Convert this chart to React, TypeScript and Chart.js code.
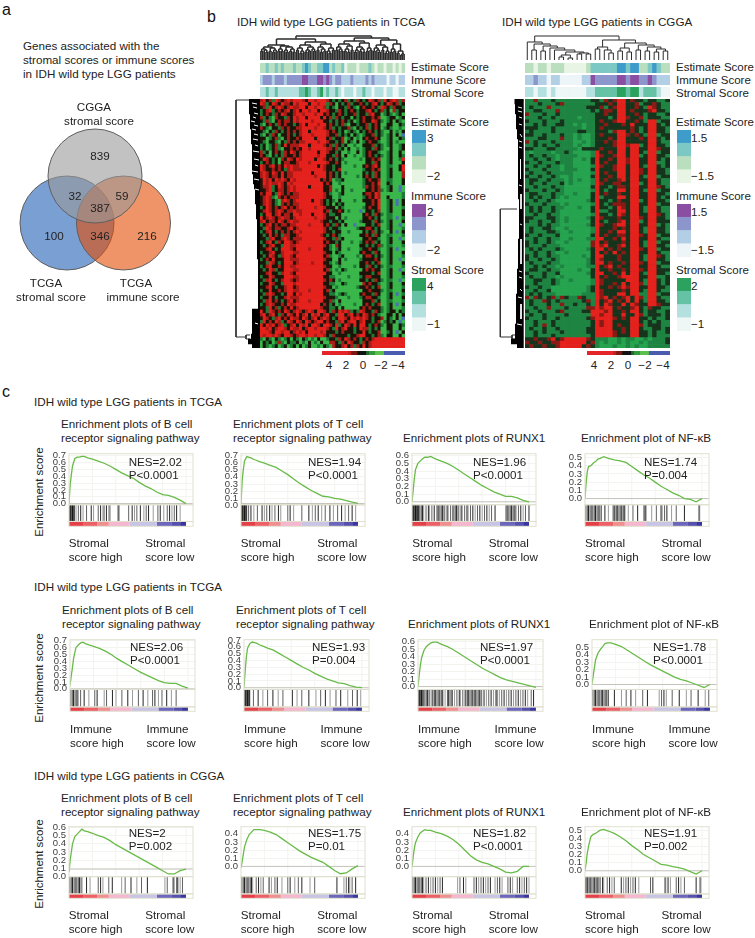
import React, { useEffect, useRef } from "react";
import { Chart, registerables } from "chart.js";

Chart.register(...registerables);

const FONT = '"Liberation Sans", Arial, sans-serif';

/* ---------- panel a: Venn (Chart.js paints the first dataset last) ---------- */
const vennSets = [
  { name: "CGGA stromal score", x: 95, y: 176, r: 47, color: "rgba(153,153,153,0.6)" },
  { name: "TCGA immune score", x: 123.5, y: 223, r: 47, color: "rgba(228,77,3,0.6)" },
  { name: "TCGA stromal score", x: 67, y: 223, r: 47, color: "#7a9fd3" },
];

/* ---------- panel b: heatmaps (read by eye, one letter per cell) ---------- */
const tcgaHeat = [
  "rRkrgRrkrRrR RRrkRRrRRRrk gkgkrgkgrkgk RrkrgRkrRrgr",
  "RrgkRrkRrrkR rRRRkRRrRRgr kGkgkrgkkrkg krRkgkRrkrgk",
  "krgRkrRrkrRr rRRkRRrRRrgk gGkkgrkgGkrk krkgRrkgrkkg",
  "gkrRgkrkrRkr RkRRrRRkRRrk kgrkgkrkgkkr RkgkrgkGrgkk",
  "gkrkgrkRrkkr RRrRRRrRRkrk gkrkgkkrgkkg rRkkGgkgGgkG",
  "rgkgGrkkgrkR rRRkRRRRkRkr grkgkkGkgkrk krkrGGgkkGgk",
  "kgrgGkrkrrkR rRRRRrRRRkkg kgkrkgkGgkrk kRrkgGgkGkgG",
  "gGkrkgrkrkkg krRkRRRrRRkr kgkrgGkkgkkr gkrkGGkkGGkg",
  "rkgGkkgrkrkk rrRRRRrRRrkr gkgkkrgGkgkr gkrkGgkgGGgG",
  "kgGkgrkgkrkr krRRkRRRRRrk rkgkGgkgGkgk rkgkgGGkGgGk",
  "gGkgrkGkkrkg krRRRrRRRRrk krgkgkGkgGgk krgkgGgkGkGb",
  "kkGgkrgGkrkk rkRRRRkRRRkr gkkrGgkGgGkr kkrkGGgkGGkg",
  "kgGkkgGkgrkr krrRRRRrRRrk kgkrGkgGkGgk rkkgGGgkGgGG",
  "gkGgkrgkRkrr rRRRkRRRRrkr grkgkGGgGGkk krgkgGgkGGgk",
  "gkGgkrgGkkrk rkRRrRRRRRrr krgkGkGGgGgk kgrkgGGkGGgk",
  "rgkGkrkgrkRr krRRRRRkRRrk kgkGGgGGkGgk rkkgGGgkGGkG",
  "rkgGkgkgrkkr krRRRRRrRRkk grkGkGGgGGgk rkgkgGgkGGkg",
  "kRrkgkGrkRrk RrRRRRkRRrkr kgkgGGGGGgGk krkrGGgkGGgR",
  "gkrkgkGkrrkk rRRRrRRRRRrk krkGgGGGGGGk kgrkGGgkGGGk",
  "RrkrRkrkRrRr rRRRRRRkRrkk gkkGGGGgGGkr krRkGGggGGkR",
  "RrkkrkrkgrRr rrRRRRRRRrkk gkrGGGGGGGgk krkrGGgkGGkR",
  "rRrkRrkRkrrR RRRRRkRRRRkr kgkGgGGGGGkg kgrkGGgkGGGr",
  "rRrkrrkRkrrR RRRRRRrRRRkr kgkGGGGGgGkr kgrkGGgkGGGr",
  "kRrRkRrRrkRr RRRRRRRRkrkr GggkGGGGGGgk rkkrGGggGGGk",
  "kRrRrrRrkRrR RRRRRRRRRkrk GGgGGGGGGGgk krkRGGkgGGGk",
  "krrRgkRrkrRr RRRRkRRRRkkr GGGkGGGGGGgr krkrGGgkGGbG",
  "kkrRgkrrkrRr RRRRRRRRRkkr GgGkGGgGGGGk krkrgGgkGGbG",
  "rkRRkgRrkrkr rRRRRRRRRrkg GGgkGGGGGGkr rkRrGGGGGGGg",
  "krRrgGrkrkrr rRRRRRRRRrkk GGgGGGGGGGgk rkRrGGkGGGGg",
  "krRrkgGrRrkr RRRRRkRRrkgk gGkGGGGgGGkk krkRGGgkGbGk",
  "krRrkgGrkrkr rRRRRRRRrkgk GkgkGGGGGGGk krkRGGgkGbGk",
  "gkRrkrkrRkrk rRRRRRrRRrkk kGkgGGGGGGgk rkkRGGgkGGGg",
  "krRrkrRrkrrR rrRRRRRRRkrg kkrkGgGGGbGk kgkrGGgkGGGk",
  "gkRRkrRkrrkR RrRRRkRRRrkg gkkGGGGGGGkr kgrkgGggGGGk",
  "RkrRrkrRrrkr RRRRRRrRRrkk kGkGgGGGGGkk rkgkGGggGbGg",
  "rRkrrkRrkrRr rRRRRRRRrkkg kkgkGGGGGgkk kgrkgGgkGGGk",
  "gkrRkrkrrkrr RRRRrRRRRkrk grkGkGGbGGGk kgkrGGgkGGbG",
  "kgRrkrrkkrRk rRRRRRRRRrkg kkgGGGGGgkkr rkgkGGgkGGGg",
  "gkrRkgkrkrkr RrRRRRRRRrkk gkkGGgGGGGkg krgkgGGkGbGk",
  "kgkRkrkgrrkk rRRRRRRRrkgk rkgGGGGGGkkr kgrkGGggGGGg",
  "kkgrRkkrRrkr rrRRRRRRRrkk grgkGGGGGGkk rkkgGGgkGGbG",
  "gkrRkgrkRRrk rRRRRRRRRkrk kgkGGGgGGgkr krgkGGgkGGGk",
  "kgkrRkkgRRrr RRRRRRRRRrkg GrkGGGGGGkkg kgkrgGggGGGg",
  "kkrRkgkRRRrk RRRRrRRRRkkg GgkGGgGGGgkk rkkgGGgkGbGG",
  "gkkrRkkrRRRr rRRRRRRRRrkk GkgGGGGGGkrk kgrkGGgkGGGk",
  "kgkRrkgrRRrk RRRRRRRRRkrg GGgkGGGGgGkr rkgkgGgkGGGg",
  "gkrkRkkkRRrr rRRRRRRRRrkk GGkGgGGGGgkk kkrkGGgkGGbG",
  "kkgRrkgkRRRk rRRRRrRRRkkg GgkGGGGGGkkr kgkrGGgkGGGk",
  "gkrRkkrkRRrr RRRRRRRRRrkk GGgGGGGgGkkg rkgkgGggGGGg",
  "kgkRrgkkRRRr rRRRRRRRRkrg GgGkgGGGGGkr krkkGGgkGGbG",
  "kkrRkkgrRRrk RRRRRRRRRRkk GGgGGGGGGkkk kgkrGGgkGGGk",
  "gkkRrkkkRRRr rRRRRRRRRkkg gGGGGgGGGgkr rkkkGGgkGGGg",
  "kgrRkgkrRRrk rRRRRRRRRrkr kGgGGGGGGkkg kgrkgGggGGbG",
  "gkkRrkkgRRRr RRRRRRRRRkkg gGGkgGGGGGrk rkkgGGgkGGGk",
  "kkrRkgkkrRRk rRRRRRRRRrkk GgGGGGGGgkkr kgkrGGgkGGGg",
  "gkkRkkrkrRRr rRRRrRRRRkrg kGGGGGGGGGkk rkkkgGggGGGk",
  "kgrRrkkgkRRk RrRRRRRRRkkg gGgkgGGGGkrk kgrkGGgkGbGg",
  "gkkRkgkkrRrr rRRRRRRRRrkk kgGGGgGGGgkr rkkgGGgkGGGk",
  "kgrRkrkgkrRk rRRRrRRRRkkr gGkGGGGGGGkk krgkGGggGGGg",
  "gkrRrkkrkRrr RRRRRRRRkrkg kGgGGGGgGGkr kgkrGGgkGbGk",
  "kkgRkrgkrkRk rRRRRRRRrkkg gkGkGGGGGkrk rkkkgGgkGGGg",
  "RkgRrkrkRrkr RrkrRrkRRrkg rkRrRrgkgRrk kgrkgGgkkGkg",
  "rRkrRkgrkRrk RkrRkRrRkrRk kgRRkrRkrkRr krkgGGkkGkGk",
  "kRrkgrRkrkRr rkRrkrRkrRrk gkRRrkRrRrRr kgkkrGkgGkGb",
  "gRkrkRrgkRrk RrkRrkrRRkrk kgrRkrRRkrRk kgkrGgkgkGbG",
  "RkRrRkrRgkrR kRrRkRRrkRRr kRgkRrkRkRRk gkrkgGkkGGkg",
  "RRrRkrRRrkRr rRkrRRrRRRrk gRkrRkkgkRrr gkgkGGkkGGkG",
  "RRRrkRRrRRkr RrRkRRRRrRkk kgkrkkkgkkRk gkkrGGgkGbGk",
  "RrRRrRrkRRrk rRRrRRrRRrkg rkkkkgkkrRRk kgkrgGkkGGkG",
  "gGkgGkgGgkGk gGkgGgGkGGgk kgrkRrkrkgkr krRRRRRRRRRR",
  "GkgkGgrgGkgg kGgGkGgGkGGr rkgrkRrkkgrk rRRRRRRRRRRR",
  "GkgGgkGgkGgk GkGgkGGgGkgG rkkrRkrgrkRk rRRRRRRRRRRR",
];

const cggaHeat = [
  "ggrgggkgggg ggggkkgrkrR Rkrkkgkkggk",
  "gggkgggkrgg gggggkkkrkR Rkkrgkkrkgg",
  "gkgggrggggg gggkkkrgkrR RkkrkgRrkgg",
  "ggkkgggrggg ggggkgkrrkR RkrkkkrRkkg",
  "rgggkggkggg gggggkkrkkR Rkkrkgkkggk",
  "gggkggkgggg gGgggkkkgkR Rrkkrgkkkgg",
  "kgggkgggkgg gggggkrkkrR RkkrkgRRgkk",
  "ggkgkggkkgg GgGggkkrkkk rkRkkkRRkgk",
  "kkkgggkgggg ggGggkrkkkk kkrkgkRRkkg",
  "gkggggkgggg gkkggkkkgrR RkrkgkRRkkg",
  "kkggkgggkgg GgGGgkrkkkR RrkrkgRRgkk",
  "gggkkgggrgg GgGGgkkkrkR RkkkrkRRkgk",
  "rgkgggkgggg GGgGgkkrkrR RkkkkkRRkgg",
  "ggkgkggkggg GgGGgkkkkrR RrRRgkRRkkg",
  "kkgggkkgggg gGkkkkrkkkR RkRRkkRRrkk",
  "gGggggGggkg GGGGgRkkrkR RkRRkgRRgkk",
  "gkggkggGggg gGGGgRrkkrR RkRRgkRRkkg",
  "ggkggkgGggg GGgGkRkkrkR RrRRkkRRkgk",
  "kggkgggkggg GGGGkRkrkkR RrRRkkRRggk",
  "ggkggkggGgg GGGGgRrkkrR RkRRkgRRkgk",
  "kgggkgggGgg gGGGkRkkkrR RkRRrkRRkkg",
  "gkgggkggggg GGGGgRkrkkR RkRRrkRRkkg",
  "kggkggkgGGg GGGGkRkkrkR RkRRkgRRgkk",
  "gkkggkgggGg GgGGgRkrkkr RkRRkkRRkgg",
  "gkggkgggkGg GGGGgRrkkrr kkRRgkRRkgg",
  "ggkgggkggGG GGGGkRkkgkr rkRRkkRRrkg",
  "kgggkggkgGG GGGGgRkgkkR RkRRkgRRgkk",
  "gkkgggkggGG gGGGkRkrkkr kkRRkkRRkkg",
  "gkgkggkgGgG GGGGkRgkkkR RkRRkkRRkgk",
  "ggkggkgGGGG GGGgkRkkgkr kkRRgkRRkkg",
  "kgggkgggGgG GGGGgRkgkrr rkRRkkRRgkk",
  "gkgkggkggGG GgGGkRkkgkR rkRRkgRRkgg",
  "gkgkggkgGGG GGGGkRggkkR RkRRkgRRkgg",
  "ggkggkggGGG GGGGgRkkgkR rkRRkkRRrkg",
  "kkgggkkgGgG GGGgkRrkkkr kkRRrkRRkkg",
  "kggkggkgGgG GGGGkRkgkkr RkRRgkRRkkk",
  "gggkgkggGGG GGGgkRrkkrR RkRRkkRRgkg",
  "gkggkkgGGgG GGGGgRkkkrk rkRRkgRRkkg",
  "gkgggkkgGGg GGGGgRkkrkR RkRRkgRRkkg",
  "kggkgggkGGG GGGGkRkrkkr rkRRrkRRgkk",
  "ggkggkggGGg GGGggRRkkrk RkRRkkRRkgg",
  "kgkggkgGGgG GGGGrRkrkkk rkRRkgRRgkk",
  "kgggkgggGGG GGGGrRrRkkr RkRRkgRRkkg",
  "gkgkgggkgGG GGGgkRRkrkr kkRRrkRRgkk",
  "ggkggkgGGgG GGGGkRkrkRk rkRRkkRRkgg",
  "kgkggkggGGG GGgGkRRkkkr kkRRkgRRrkg",
  "kggkggkgGGG GGGgkRrkkkr kkRRkgRRkkg",
  "gkgggkggGGG GGGgkRRkrkk rkRRrkRRgkk",
  "ggkgkggGgGG GGGggRkrRkr kkRRkkRRkgg",
  "gkkggkggGGG GgGGkRkkrkk rkRRrkRRkkk",
  "kgggkggkGGG GGGgkRRkkrk RkRRkgRRkkg",
  "gkggkggGgGG GGGGkRkrkkr RRRRkkRRggk",
  "ggkkggkgGGg GGGGgRrkkkk kRRRkgRRkgk",
  "ggkgggkgGGG GGGGgRrkkrk RkRRrgRRkgk",
  "kggkggGGGGG GGGgkRkkrkr RrRRkkRRkkg",
  "ggkggkGGGGG GGGgkRrkkkk rkRRkgRRkgg",
  "gkgkgggGGGG GGgggRrkkkR RkRRggRRgkk",
  "rgrkgkrgrkg grkggRrRkrk rRkRrgRRkgg",
  "gkggrkgkggg ggkrgRkrRkr kRkRkgRRkkg",
  "gkgggkggrgg kggkgRkRrkk RkRrkkRRrkk",
  "ggkggrgggkg gggrrRrRRkr kkrRkgrkkgg",
  "kggkgggkrgg ggkkRRRrRkk rkRRkgkkggk",
  "gkggkggggkg ggggRRrRRkk RkkRrgkkkgk",
  "kgggkggkggg gggkrRRRRrk rkRRkkgkggk",
  "ggkgggkgggg ggggkRrRRkk kkRRkgkgkgg",
  "ggkgrgkgggg ggggkRrRRkr kkRRrgkkkgg",
  "gkggkggkggg gggkkRRRRkk rkRRkggkkgk",
  "ggkgkgggkgg gggkkRRRRrk rkRRkkgkggk",
  "ggkgggkgggg ggggkRRRRrk kkRRkkgkggg",
  "kkrkkrRkrRR RRRrkgggGGg GggGGgGgggk",
  "rkkrkkrrRRR RRRkrgGgGGg GgGGgGggggk",
  "krkkrkkrRRR RRkrkgGGGgG GgGgGGggggg",
];

const tcgaEstimate = ["bbcbbcbcbbbcbbcdcbbccddbcbbcabbbabbbcbabbabbabab"];
const tcgaImmune = ["bcccbcccbcccccddcccddcdcbccbbbcbbbbcbcbbbbabbabb"];
const tcgaStromal = ["bbcbbcbbbbbbbccdcbbcdbcbbcbabbbabbcbbabbbabbaabb"];
const cggaEstimate = ["bbabbabbbaaaaabccccccddcddbbcdcbb"];
const cggaImmune = ["bbcbbabbaaaaabbdcccccddcddccdcbbb"];
const cggaStromal = ["bbabbabaaaaaaabbcccccddcddbcccbaa"];
const swatchRows = ["d", "c", "b", "a"];
const scaleRow = ["RRRRRRRRRSTTkkkghhGGGbbbbbbb"];

const heatColorsTcga = { R: "#e4211c", r: "#a81b16", k: "#1a1409", g: "#1c7a34", G: "#3ab74a", b: "#4a6fb5" };
const heatColorsCgga = { R: "#e4211c", r: "#8a1a15", k: "#16341c", g: "#1e8442", G: "#25a34e", b: "#4a6fb5" };
const estimateColors = { a: "#e9f5e4", b: "#b9dfbf", c: "#7cc8c4", d: "#3e9ccb" };
const immuneColors = { a: "#eef5f8", b: "#b3cfe6", c: "#8d96cc", d: "#8a4fa3" };
const stromalColors = { a: "#eef6f6", b: "#b4e0e0", c: "#66c2a5", d: "#2ca25f" };
const scaleColors = { R: "#e4252a", S: "#c0201f", T: "#7d1712", k: "#111111", g: "#1d6b2e", h: "#2f9a3a", G: "#5cc04a", b: "#4a5cb0" };

/* dendrograms: [mergeHeight, left, right]; 0 is a leaf */
const tcgaTree = [24,
  [21,
    [15, [13, [11, [9, 0, 0], [10, 0, [8, 0, 0]]], [12, [9, 0, 0], [10, [8, 0, 0], 0]]], [14, [11, [9, 0, 0], [9, 0, 0]], [13, [10, 0, [8, 0, 0]], [11, [9, 0, 0], [8, 0, 0]]]]],
    [18, [15, [12, [10, 0, 0], [9, [7, 0, 0], 0]], [13, [10, [8, 0, 0], [9, 0, 0]], [11, 0, [9, 0, 0]]]], [16, [13, [10, 0, 0], [11, [8, 0, 0], [9, 0, 0]]], [12, [9, 0, [7, 0, 0]], [10, 0, 0]]]],
  ],
  [22,
    [19, [16, [13, [10, 0, 0], [11, 0, [9, 0, 0]]], [14, [11, [9, 0, 0], [8, 0, 0]], [10, 0, 0]]], [17, [13, [10, [8, 0, 0], 0], [11, [9, 0, 0], [8, 0, 0]]], [12, [9, 0, 0], [10, 0, 0]]]],
    [20, [15, [12, [9, 0, 0], [10, 0, [8, 0, 0]]], [13, [10, 0, 0], [9, [7, 0, 0], 0]]], [16, [11, [8, 0, 0], [9, 0, 0]], [9, [7, 0, 0], [6, [5, 0, 0], 0]]]],
  ],
];
const cggaTree = [24,
  [18, 0, [16, [10, 0, 0], [14, [9, 0, 0], [12, 0, [10, 0, [8, [5, [3, 0, 0], [2, 0, 0]], [7, [6, 0, 0], [6, 0, 0]]]]]]]],
  [20, [13, [11, 0, 0], [10, 0, [7, 0, 0]]], [17, [12, [9, 0, 0], [8, 0, 0]], [15, [10, 0, 0], [13, [9, 0, 0], [11, [8, 0, 0], [9, 0, 0]]]]]],
];

/* left dendrograms: where the black comb starts on each row */
const tcgaComb = [15, 15, 15, 16, 16, 16, 17, 17, 17, 18, 18, 18, 18, 18, 18, 19, 19, 20, 21, 21, 21, 22, 22, 22, 23, 23, 23, 23, 23, 23, 23, 23, 24, 24, 24, 24, 24, 24, 24, 24, 24, 24, 18, 18, 18, 18, 18, 17, 14, 18];
const cggaComb = [17.5, 18, 18, 19, 19, 19, 20, 20, 21, 21, 21, 21, 21, 21, 21, 21, 21, 21, 21, 21, 22, 22, 22, 22, 22, 22, 22, 22, 21, 21, 21, 21, 21, 21, 20, 20, 20, 20, 20, 19, 19, 19, 19, 19, 19, 18, 18, 18, 14, 20];
const tcgaCombGaps = [[18, 4, 23, 5], [19, 8, 23, 9], [20, 14, 24, 15], [19, 18, 22, 19], [17, 22, 21, 23], [20, 26, 24, 27], [18, 30, 22, 31], [20, 35, 24, 36], [19, 40, 24, 41], [21, 46, 24, 47], [19, 52, 25, 53], [20, 60, 25, 61], [21, 66, 24, 67], [18, 72, 24, 73], [20, 80, 25, 81], [21, 90, 25, 91], [21, 224, 24, 225]];
const cggaCombGaps = [[21, 8, 25, 9], [21, 12, 25, 13], [22, 18, 25, 19], [22, 25, 25, 26], [23, 35, 25, 38], [22, 42, 25, 43], [22, 48, 25, 49], [23.5, 60, 23.5, 80], [22, 86, 25, 87], [24, 95, 24, 110], [23, 125, 25, 126], [24, 140, 24, 165], [22, 172, 25, 173], [22, 178, 25, 179], [23, 190, 25, 192], [21, 198, 25, 199], [24, 205, 24, 220], [20, 225, 25, 226]];
const tcgaBrackets = [[2, 1, 2, 238], [2, 1, 15, 1], [2, 238, 12, 238], [12, 236, 16, 236], [12, 240, 16, 240], [12, 236, 12, 240]];
const cggaBrackets = [[3.3, 110, 3.3, 238], [3.3, 110, 20, 110], [3.3, 238, 15, 238], [15, 236, 19, 236], [15, 240, 19, 240], [15, 236, 15, 240]];

/* ---------- panel c: enrichment plots ---------- */
const rankAxis = [0, 1, 2, 3, 5, 7, 9, 11, 13, 16, 20, 25, 30, 35, 40, 45, 50, 55, 60, 65, 70, 75, 80, 85, 90, 95, 100];

const esTcgaStromalB = [0, .28, .42, .55, .66, .68, .68, .69, .69, .67, .65, .62, .59, .55, .5, .45, .41, .37, .31, .26, .22, .17, .13, .12, .09, .05, 0];
const esTcgaStromalT = [.02, .35, .5, .62, .68, .67, .66, .64, .63, .61, .59, .56, .53, .48, .43, .37, .31, .26, .21, .17, .13, .12, .1, .09, .07, .05, .03];
const esTcgaStromalRunx = [0, .15, .3, .42, .5, .53, .56, .58, .58, .59, .56, .53, .5, .46, .41, .36, .31, .26, .21, .17, .13, .1, .07, .07, .05, .02, 0];
const esTcgaStromalNf = [0, .2, .33, .39, .4, .43, .45, .48, .49, .51, .49, .47, .46, .44, .39, .34, .29, .25, .2, .15, .11, .07, .04, 0, -.01, -.04, 0];
const esTcgaImmuneB = [.05, .18, .3, .44, .6, .64, .67, .68, .66, .64, .62, .59, .55, .5, .44, .39, .34, .29, .24, .2, .16, .12, .09, .08, .08, .04, .01];
const esTcgaImmuneT = [0, .25, .45, .58, .65, .67, .66, .65, .63, .61, .58, .55, .5, .45, .4, .35, .3, .26, .21, .17, .13, .1, .07, .06, .03, .01, 0];
const esTcgaImmuneRunx = [0, .15, .28, .38, .48, .53, .56, .58, .59, .59, .56, .53, .49, .44, .39, .34, .29, .24, .2, .16, .12, .09, .07, .05, .03, .01, -.01];
const esTcgaImmuneNf = [0, .12, .22, .33, .42, .47, .51, .55, .56, .56, .54, .51, .46, .41, .36, .31, .26, .22, .18, .14, .1, .07, .05, .02, -.01, -.04, 0];
const esCggaB = [.05, .2, .3, .4, .49, .52, .55, .58, .56, .55, .53, .5, .48, .44, .39, .35, .31, .27, .23, .19, .15, .11, .07, .03, .03, .07, .09];
const esCggaT = [-.02, .06, .15, .24, .33, .39, .42, .45, .45, .45, .44, .42, .39, .34, .29, .24, .19, .15, .11, .08, .05, 0, -.05, -.09, -.08, -.03, .01];
const esCggaRunx = [-.01, .12, .22, .29, .36, .41, .43, .45, .44, .44, .42, .4, .37, .33, .27, .2, .13, .08, .05, .03, 0, -.03, -.07, -.08, -.06, 0, 0];
const esCggaNf = [0, .1, .22, .3, .42, .45, .46, .48, .5, .51, .49, .46, .42, .37, .31, .26, .2, .16, .12, .08, .07, .05, .04, .02, -.01, -.04, 0];

const hitsTcgaStromalB = [0, .5, 1, 1.5, 2, 2.5, 3, 3.5, 4, 4.5, 6, 8, 10, 12, 15, 19, 21, 25, 27, 29, 30, 32, 34, 35, 42, 43, 51, 54, 56, 58, 61, 64, 66, 68, 72, 76, 78, 81, 84, 86, 88, 90, 92, 95];
const hitsTcgaStromalT = [0, .5, 1, 1.5, 2, 2.5, 3, 3.5, 4, 4.5, 5, 6.5, 8.5, 11, 14, 18, 20, 22, 24.5, 26.5, 29, 32, 34, 40, 42, 45, 52, 58, 61, 63.5, 66, 69, 72, 76, 79, 82.6, 86, 89, 92, 95, 98];
const hitsTcgaStromalRunx = [0, .5, 1, 1.5, 2, 2.5, 3, 3.5, 4, 4.5, 5, 5.5, 6, 7, 8, 9, 10, 12, 14, 15, 17, 19, 21, 22, 23, 24, 25, 26, 27, 28, 30, 31, 33, 35, 36, 37, 38, 39, 40, 42, 43, 45, 47, 48, 50, 52, 54, 56, 58, 60, 62, 64, 66, 68, 71, 80, 81, 82, 83, 84, 85, 86, 87, 88, 89, 91, 93, 95, 97, 100];
const hitsTcgaStromalNf = [0, 1, 2, 3, 4, 5, 6, 7, 8, 9, 10, 11, 12, 13, 14, 17, 20, 24, 25, 26, 27, 28, 29, 30, 31, 32, 33, 34, 37, 41, 45, 50, 51, 52, 57, 61, 65, 66, 68, 70, 74, 78, 85, 97, 98];
const hitsTcgaImmuneB = [0, 1, 2, 3, 4, 5, 6, 7, 9, 12, 16, 21, 23, 29, 31, 36, 39, 44, 49, 53, 58, 62, 66, 70, 72, 75, 78, 82, 86, 90];
const hitsTcgaImmuneT = [0, .5, 1, 1.5, 2, 2.5, 3, 3.5, 4, 4.5, 5, 8, 12, 16, 20, 24.5, 29, 33, 41, 45, 49, 55, 61, 65, 69, 73, 78, 82, 88, 92, 96, 99];
const hitsTcgaImmuneRunx = [0, .5, 1, 1.5, 2, 2.5, 3, 3.5, 4, 5, 6, 7, 8, 9, 10, 12, 13, 14, 15, 16, 17, 18, 19, 20, 21, 23, 25, 26, 27, 28, 29, 31, 33, 35, 36, 38, 40, 41, 42, 43, 44, 45, 46, 47, 48, 49, 50, 51, 52, 53, 54, 56, 58, 60, 62, 64, 66, 67, 69, 71, 73, 75, 77, 79, 81, 83, 85, 87, 89, 91, 93, 96, 98];
const hitsTcgaImmuneNf = [0, 1, 2, 3, 4, 5, 6, 7, 8, 9, 10, 11, 12, 13, 14, 19, 25, 29, 33, 37, 43, 47, 57, 59, 61, 63, 68, 74, 80, 84, 90, 96, 99];
const hitsCggaB = [0, 1, 2, 3, 4, 5, 6, 7, 8, 9, 10, 11, 15, 18, 25, 27, 29, 34, 37, 45, 48, 53, 58, 62, 67, 82, 84, 89, 90, 92, 93, 95, 97];
const hitsCggaT = [0, 1, 2, 3, 4, 5, 6, 7, 8, 9, 10, 13, 15, 17, 19, 24, 26, 29, 31, 35, 40, 42, 46, 49, 52, 59, 63, 82, 88, 90, 92, 93, 95, 98];
const hitsCggaRunx = [0, 1, 2, 3, 4, 5, 6, 7, 8, 9, 10, 12, 14, 16, 18, 20, 22, 24, 26, 39, 41, 44, 46, 53, 55, 57, 59, 61, 63, 65, 67, 71, 73, 75, 77, 82, 84, 86, 90, 92, 94, 96, 98, 100];
const hitsCggaNf = [0, .5, 1, 2, 3, 4, 5, 6, 7, 8, 9, 10, 11, 12, 13, 15, 16, 19, 21, 23, 25, 31, 33, 35, 37, 39, 41, 43, 46, 56, 58, 68, 69, 71, 73, 78, 80, 82, 85, 95, 98, 99];
const hitShades = ["rgba(0,0,0,0.9)", "rgba(20,20,20,0.45)", "rgba(10,10,10,0.68)"];

const rampStops = [
  [0, 12, "#e5404a"], [12, 24, "#ee6068"], [24, 34, "#f08f90"], [34, 52, "#f6b6d0"],
  [52, 75, "#c8c4e6"], [75, 88, "#6c66bd"], [88, 95, "#5650ae"], [95, 100, "#3a36a0"],
];

const titleB = ["Enrichment plots of B cell", "receptor signaling pathway"];
const titleT = ["Enrichment plots of T cell", "receptor signaling pathway"];
const titleR = ["Enrichment plots of RUNX1"];
const titleN = ["Enrichment plot of NF-κB"];

/* frame geometry and stats of the twelve enrichment plots */
const rows = [
  { top: 451, div: 509, rampTop: 528, bottom: 533.5, heading: "IDH wild type LGG patients in TCGA", headY: 402, tail: "Stromal", t1: 423.5, t2: 437.5, label: 492, statY: [462, 475], textY: [543, 557], xs: [68.7, 240.7, 412.3, 585], w: 124 },
  { top: 637, div: 694, rampTop: 714, bottom: 719, heading: "IDH wild type LGG patients in TCGA", headY: 587, tail: "Immune", t1: 610, t2: 624, label: 678, statY: [647, 660], textY: [729, 743], xs: [70, 244, 418, 592], w: 125 },
  { top: 824, div: 881, rampTop: 900.7, bottom: 905.7, heading: "IDH wild type LGG patients in CGGA", headY: 776, tail: "Stromal", t1: 798, t2: 812, label: 864, statY: [833, 846], textY: [915, 929], xs: [68.7, 240.7, 412.3, 585], w: 124 },
];
const plots = [
  [
    { es: esTcgaStromalB, hits: hitsTcgaStromalB, title: titleB, nes: "NES=2.02", p: "P<0.0001", y0: 507.7, tick: 453.3, tv: .7, base: 0, tx: 61, sx: 128.7 },
    { es: esTcgaStromalT, hits: hitsTcgaStromalT, title: titleT, nes: "NES=1.94", p: "P<0.0001", y0: 510, tick: 452.7, tv: .7, base: 0.03, tx: 233, sx: 308 },
    { es: esTcgaStromalRunx, hits: hitsTcgaStromalRunx, title: titleR, nes: "NES=1.96", p: "P<0.0001", y0: 505.7, tick: 453.3, tv: .6, base: 0, tx: 403, sx: 473 },
    { es: esTcgaStromalNf, hits: hitsTcgaStromalNf, title: titleN, nes: "NES=1.74", p: "P=0.004", y0: 502, tick: 455.3, tv: .5, base: 0, tx: 581, sx: 644 },
  ],
  [
    { es: esTcgaImmuneB, hits: hitsTcgaImmuneB, title: titleB, nes: "NES=2.06", p: "P<0.0001", y0: 693.3, tick: 638.3, tv: .7, base: 0, tx: 62, sx: 130 },
    { es: esTcgaImmuneT, hits: hitsTcgaImmuneT, title: titleT, nes: "NES=1.93", p: "P=0.004", y0: 692, tick: 637.3, tv: .7, base: 0, tx: 236, sx: 312 },
    { es: esTcgaImmuneRunx, hits: hitsTcgaImmuneRunx, title: titleR, nes: "NES=1.97", p: "P<0.0001", y0: 690.7, tick: 639, tv: .6, base: 0, tx: 408, sx: 480 },
    { es: esTcgaImmuneNf, hits: hitsTcgaImmuneNf, title: titleN, nes: "NES=1.78", p: "P<0.0001", y0: 688.3, tick: 645.7, tv: .5, base: 0, tx: 589, sx: 653 },
  ],
  [
    { es: esCggaB, hits: hitsCggaB, title: titleB, nes: "NES=2", p: "P=0.002", y0: 880.7, tick: 825, tv: .6, base: .09, tx: 61, sx: 128.7 },
    { es: esCggaT, hits: hitsCggaT, title: titleT, nes: "NES=1.75", p: "P=0.01", y0: 869.3, tick: 832, tv: .4, base: 0, tx: 233, sx: 308 },
    { es: esCggaRunx, hits: hitsCggaRunx, title: titleR, nes: "NES=1.82", p: "P<0.0001", y0: 869.3, tick: 832, tv: .4, base: 0, tx: 403, sx: 473 },
    { es: esCggaNf, hits: hitsCggaNf, title: titleN, nes: "NES=1.91", p: "P=0.002", y0: 874.3, tick: 828, tv: .5, base: 0, tx: 581, sx: 644 },
  ],
];

/* ---------- helpers ---------- */
const baseOptions = {
  animation: false,
  responsive: false,
  maintainAspectRatio: false,
  events: [],
  layout: { padding: 0, autoPadding: false },
  plugins: { legend: { display: false }, tooltip: { enabled: false } },
};

function cellsConfig(rowsIn, palette) {
  const clean = rowsIn.map((r) => r.replace(/ /g, ""));
  const cols = Math.max(...clean.map((r) => r.length));
  const labels = Array.from({ length: cols }, (_, i) => String(i));
  const datasets = [...clean].reverse().map((r) => ({
    data: labels.map(() => 1),
    backgroundColor: labels.map((_, c) => palette[r[c]] || palette.k || palette.a),
    borderWidth: 0,
    categoryPercentage: 1,
    barPercentage: 1,
  }));
  return {
    type: "bar",
    data: { labels, datasets },
    options: {
      ...baseOptions,
      scales: {
        x: { display: false, stacked: true },
        y: { display: false, stacked: true, min: 0, max: clean.length },
      },
    },
  };
}

function segPoints(list) {
  const pts = [];
  for (const [x0, y0, x1, y1] of list) {
    pts.push({ x: x0, y: y0 }, { x: x1, y: y1 }, { x: x1, y: null });
  }
  return pts;
}

function lineSet(list, color, width, axis = "y", extra = {}) {
  return {
    type: "scatter",
    data: segPoints(list),
    showLine: true,
    borderColor: color,
    borderWidth: width,
    pointRadius: 0,
    spanGaps: false,
    borderCapStyle: "butt",
    yAxisID: axis,
    ...extra,
  };
}

function treeSegments(tree) {
  const segs = [];
  let leaf = 0;
  const walk = (n) => {
    if (n === 0) return { x: leaf++ + 0.5, h: 0 };
    const [h, a, b] = n;
    const l = walk(a);
    const r = walk(b);
    segs.push([l.x, l.h, l.x, h], [r.x, r.h, r.x, h], [l.x, h, r.x, h]);
    return { x: (l.x + r.x) / 2, h };
  };
  walk(tree);
  return { segs, leaves: leaf };
}

function treeConfig(tree, width) {
  const { segs, leaves } = treeSegments(tree);
  return {
    type: "scatter",
    data: { datasets: [lineSet(segs, "#2b2b2b", width)] },
    options: {
      ...baseOptions,
      scales: {
        x: { display: false, type: "linear", min: 0, max: leaves },
        y: { display: false, type: "linear", min: 0, max: 25 },
      },
    },
  };
}

function combConfig(comb, right, gaps, brackets, w) {
  const band = comb.map((e, i) => [e, (i + 0.5) * 5, right, (i + 0.5) * 5]);
  return {
    type: "scatter",
    data: {
      datasets: [
        lineSet(gaps, "#ffffff", 1),
        lineSet(band, "#000000", 5.6),
        lineSet(brackets, "#333333", 1),
      ],
    },
    options: {
      ...baseOptions,
      scales: {
        x: { display: false, type: "linear", min: 0, max: w },
        y: { display: false, type: "linear", reverse: true, min: 0, max: 249 },
      },
    },
  };
}

const framePlugin = {
  id: "frames",
  afterDatasetsDraw(chart) {
    const { ctx, chartArea, scales } = chart;
    ctx.save();
    ctx.strokeStyle = "#e0e0d0";
    ctx.lineWidth = 1;
    for (const id of ["y", "yh", "yr"]) {
      const s = scales[id];
      ctx.strokeRect(chartArea.left, s.top, chartArea.right - chartArea.left, s.bottom - s.top);
    }
    ctx.restore();
  },
};

const AXIS_W = 30;
const PAD_TOP = 6;

function gseaConfig(row, p) {
  const unit = (p.y0 - p.tick) / p.tv;
  const yMax = (p.y0 - row.top) / unit;
  const yMin = (p.y0 - row.div) / unit;
  const tickVals = [];
  for (let i = 0; i <= Math.round(p.tv * 10); i++) tickVals.push(i / 10);
  const gridX = [20, 40, 60, 80, 100];
  const datasets = [
    {
      type: "scatter",
      data: rankAxis.map((x, i) => ({ x, y: p.es[i] })),
      showLine: true,
      borderColor: "#68bb48",
      borderWidth: 1.3,
      pointRadius: 0,
      yAxisID: "y",
    },
    lineSet([[0, p.base, 106, p.base]], "#c4c4bc", 1),
    lineSet(gridX.map((x) => [x, yMin, x, yMax]), "#f3f3f0", 1),
    ...hitShades.map((shade, s) =>
      lineSet(p.hits.filter((_, i) => i % hitShades.length === s).map((h) => [h, 0, h, 1]), shade, 0.95, "yh")
    ),
    ...rampStops.map(([a, b, c]) => lineSet([[a, 0.5, b, 0.5]], c, row.bottom - row.rampTop, "yr")),
  ];
  return {
    type: "scatter",
    data: { datasets },
    plugins: [framePlugin],
    options: {
      ...baseOptions,
      layout: { padding: { top: PAD_TOP, right: 1, bottom: 1, left: 0 }, autoPadding: false },
      scales: {
        x: { display: false, type: "linear", min: 0, max: 106 },
        y: {
          type: "linear",
          position: "left",
          stack: "gsea",
          stackWeight: row.div - row.top,
          weight: 3,
          min: yMin,
          max: yMax,
          afterBuildTicks: (s) => {
            s.ticks = tickVals.map((value) => ({ value }));
          },
          afterFit: (s) => {
            s.width = AXIS_W;
          },
          border: { display: false },
          grid: { color: "#f3f3f0", drawTicks: false },
          ticks: {
            autoSkip: false,
            padding: 3,
            color: "#3c3c3c",
            font: { family: FONT, size: 9.5 },
            callback: (v) => Number(v).toFixed(1),
          },
        },
        yh: { display: false, type: "linear", position: "left", stack: "gsea", stackWeight: row.rampTop - row.div, weight: 2, min: 0, max: 1 },
        yr: { display: false, type: "linear", position: "left", stack: "gsea", stackWeight: row.bottom - row.rampTop, weight: 1, min: 0, max: 1 },
      },
    },
  };
}

function vennConfig() {
  return {
    type: "bubble",
    data: {
      datasets: vennSets.map((s) => ({
        label: s.name,
        data: [{ x: s.x, y: s.y, r: s.r }],
        backgroundColor: s.color,
        borderColor: "#5f5f5f",
        borderWidth: 1,
        clip: false,
      })),
    },
    options: {
      ...baseOptions,
      scales: {
        x: { display: false, type: "linear", min: 0, max: 200 },
        y: { display: false, type: "linear", reverse: true, min: 110, max: 290 },
      },
    },
  };
}

function Plot({ x, y, w, h, config }) {
  const ref = useRef(null);
  useEffect(() => {
    const chart = new Chart(ref.current, config);
    return () => chart.destroy();
  }, []);
  return <canvas ref={ref} width={w} height={h} style={{ position: "absolute", left: x, top: y, width: w, height: h, display: "block" }} />;
}

function T({ x, y, s, size = 11.65, center = false, color = "#222" }) {
  return (
    <span
      style={{
        position: "absolute",
        left: x,
        top: y,
        transform: center ? "translate(-50%,-50%)" : "translateY(-50%)",
        whiteSpace: "nowrap",
        fontFamily: FONT,
        fontSize: size,
        lineHeight: 1,
        color,
      }}
    >
      {s}
    </span>
  );
}

function Heatmap({ x, heading, headX, tree, treeWidth, heat, colors, est, imm, str, comb, combRight, gaps, brackets, combX, combW, legends, tickX, scaleX, scaleTicks }) {
  return (
    <>
      <T x={headX} y={22} s={heading} />
      <Plot x={x} y={35} w={145} h={25} config={treeConfig(tree, treeWidth)} />
      <Plot x={x} y={63} w={145} h={10} config={cellsConfig(est, estimateColors)} />
      <Plot x={x} y={75} w={145} h={10} config={cellsConfig(imm, immuneColors)} />
      <Plot x={x} y={87} w={145} h={10} config={cellsConfig(str, stromalColors)} />
      <Plot x={x} y={99} w={145} h={249} config={cellsConfig(heat, colors)} />
      <Plot x={combX} y={99} w={combW} h={249} config={combConfig(comb, combRight, gaps, brackets, combW)} />
      <T x={x + 151} y={68} s="Estimate Score" size={11.5} />
      <T x={x + 151} y={81} s="Immune Score" size={11.5} />
      <T x={x + 151} y={94} s="Stromal Score" size={11.5} />
      {legends.map((l) => (
        <React.Fragment key={l.name}>
          <T x={x + 151} y={l.y - 7} s={l.name} size={11.5} />
          <Plot x={x + 151.5} y={l.y} w={14} h={53} config={cellsConfig(swatchRows, l.colors)} />
          <T x={tickX} y={l.y + 8} s={l.hi} />
          <T x={tickX} y={l.y + 46} s={l.lo} />
        </React.Fragment>
      ))}
      <Plot x={scaleX} y={351} w={83} h={4} config={cellsConfig(scaleRow, scaleColors)} />
      {scaleTicks.map(([tx, s]) => (
        <T key={s} x={tx} y={365} s={s} center />
      ))}
    </>
  );
}

const tcgaLegends = [
  { name: "Estimate Score", y: 130, colors: estimateColors, hi: "3", lo: "−2" },
  { name: "Immune Score", y: 204, colors: immuneColors, hi: "2", lo: "−2" },
  { name: "Stromal Score", y: 278, colors: stromalColors, hi: "4", lo: "−1" },
];
const cggaLegends = [
  { name: "Estimate Score", y: 130, colors: estimateColors, hi: "1.5", lo: "−1.5" },
  { name: "Immune Score", y: 204, colors: immuneColors, hi: "1.5", lo: "−1.5" },
  { name: "Stromal Score", y: 278, colors: stromalColors, hi: "2", lo: "−1" },
];
const tcgaScaleTicks = [[329, "4"], [346, "2"], [363, "0"], [381, "−2"], [398, "−4"]];
const cggaScaleTicks = [[594, "4"], [611, "2"], [628, "0"], [645, "−2"], [663, "−4"]];

const vennLabels = [
  [100, 156, "839"], [75, 196, "32"], [122, 196, "59"], [100, 208, "387"],
  [54, 236, "100"], [100, 236, "346"], [147, 236, "216"],
  [94, 107, "CGGA"], [99, 121, "stromal score"], [46, 283, "TCGA"], [51, 297, "stromal score"],
  [136, 283, "TCGA"], [143, 297, "immune score"],
];
const introLines = ["Genes associated with the", "stromal scores or immune scores", "in IDH wild type LGG patients"];

export default function App() {
  return (
    <div style={{ position: "absolute", left: 0, top: 0, width: 755, height: 938, overflow: "hidden", background: "#fff" }}>
      <T x={2} y={10} s="a" size={16} color="#111" />
      <T x={207} y={17} s="b" size={16} color="#111" />
      <T x={2} y={392} s="c" size={16} color="#111" />

      {introLines.map((s, i) => (
        <T key={s} x={23} y={46 + i * 14} s={s} />
      ))}
      <Plot x={0} y={110} w={200} h={180} config={vennConfig()} />
      {vennLabels.map(([x, y, s], i) => (
        <T key={i} x={x} y={y} s={s} center />
      ))}

      <Heatmap
        x={260} heading="IDH wild type LGG patients in TCGA" headX={237}
        tree={tcgaTree} treeWidth={1.5} heat={tcgaHeat} colors={heatColorsTcga}
        est={tcgaEstimate} imm={tcgaImmune} str={tcgaStromal}
        comb={tcgaComb} combRight={26} gaps={tcgaCombGaps} brackets={tcgaBrackets} combX={234} combW={26}
        legends={tcgaLegends} tickX={427} scaleX={322} scaleTicks={tcgaScaleTicks}
      />
      <Heatmap
        x={525} heading="IDH wild type LGG patients in CGGA" headX={502}
        tree={cggaTree} treeWidth={1} heat={cggaHeat} colors={heatColorsCgga}
        est={cggaEstimate} imm={cggaImmune} str={cggaStromal}
        comb={cggaComb} combRight={26.7} gaps={cggaCombGaps} brackets={cggaBrackets} combX={497} combW={28}
        legends={cggaLegends} tickX={691} scaleX={587} scaleTicks={cggaScaleTicks}
      />

      {rows.map((row, ri) => (
        <React.Fragment key={ri}>
          <T x={34} y={row.headY} s={row.heading} />
          <span
            style={{
              position: "absolute", left: 40, top: row.label, transform: "translate(-50%,-50%) rotate(-90deg)",
              whiteSpace: "nowrap", fontFamily: FONT, fontSize: 11.5, lineHeight: 1, color: "#222",
            }}
          >
            Enrichment score
          </span>
          {plots[ri].map((p, ci) => {
            const fx = row.xs[ci];
            return (
              <React.Fragment key={ci}>
                {p.title.length === 2 && <T x={p.tx} y={row.t1} s={p.title[0]} />}
                <T x={p.tx} y={row.t2} s={p.title[p.title.length - 1]} />
                <Plot
                  x={Math.round(fx) - AXIS_W}
                  y={row.top - PAD_TOP}
                  w={row.w + AXIS_W + 1}
                  h={Math.ceil(row.bottom - row.top) + PAD_TOP + 1}
                  config={gseaConfig(row, p)}
                />
                <T x={p.sx} y={row.statY[0]} s={p.nes} size={11.6} />
                <T x={p.sx} y={row.statY[1]} s={p.p} size={11.6} />
                <T x={fx} y={row.textY[0]} s={row.tail} />
                <T x={fx} y={row.textY[1]} s="score high" />
                <T x={fx + 76.5} y={row.textY[0]} s={row.tail} />
                <T x={fx + 76.5} y={row.textY[1]} s="score low" />
              </React.Fragment>
            );
          })}
        </React.Fragment>
      ))}
    </div>
  );
}
